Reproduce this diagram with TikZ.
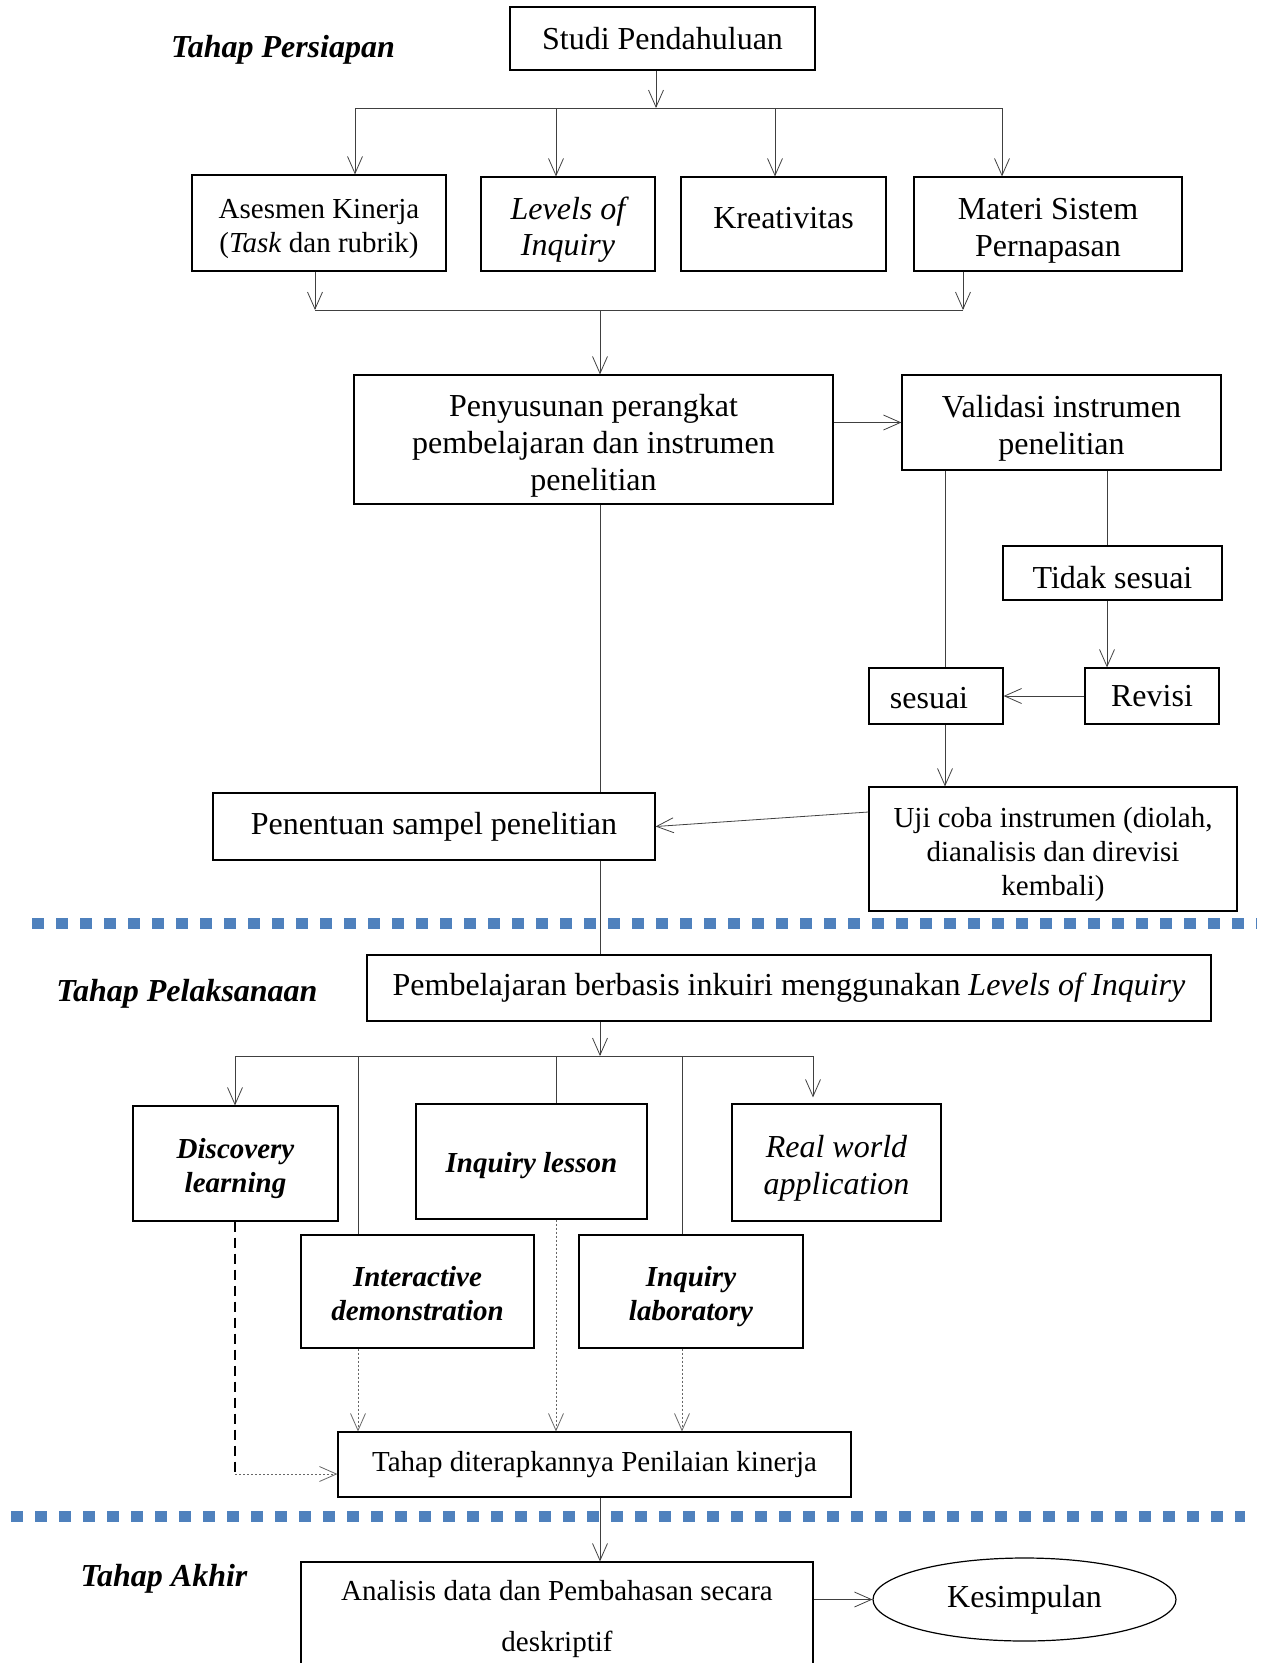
\documentclass[tikz,border=0pt]{standalone}
\usepackage{fontspec}
\setmainfont{Liberation Serif}
\usepackage{tikz}
\usetikzlibrary{positioning, arrows.meta, calc}
\usetikzlibrary{shapes.geometric}
\definecolor{sepblue}{RGB}{79,129,189}

\tikzset{
  box/.style={draw, line width=1.2pt, align=center, inner sep=0pt, font=\fontsize{32}{37}\selectfont},
  boxs/.style={box, font=\fontsize{29}{34}\selectfont},
  boxbi/.style={box, font=\fontsize{29}{34}\selectfont\bfseries\itshape},
  lower/.style={execute at begin node={\rule{0pt}{#1}}},
  raise/.style={execute at begin node={\rule[-#1]{0pt}{1pt}}},
  arr/.style={draw=black!75, line width=0.8pt, -{Straight Barb[length=17pt,width=15pt]}},
  link/.style={draw=black!75, line width=0.8pt},
  dotarr/.style={arr, draw=black!60, dash pattern=on 2pt off 2pt},
  dashline/.style={draw=black, line width=1.8pt, dash pattern=on 10pt off 6pt},
  stage/.style={font=\fontsize{32}{37}\selectfont\bfseries\itshape},
  sep/.style={draw=sepblue, line width=11pt, dash pattern=on 12pt off 12pt}
}

\begin{document}
\begin{tikzpicture}[x=1pt, y=-1pt]
    \useasboundingbox (0,0) rectangle (1269,1663);
    \clip (0,0) rectangle (1269,1663);

    % Tahap Persiapan
    \node[stage] (persiapan) at (283,50) {Tahap Persiapan};
    \node[box, minimum width=305, minimum height=63] (studi) at (662.5,38.5) {Studi Pendahuluan};
    \node[boxs, minimum width=254, minimum height=96] (asesmen) at (319,223) {\rule{0pt}{31pt}Asesmen Kinerja\\(\textit{Task} dan rubrik)};
    \node[box, minimum width=174, minimum height=94, font=\fontsize{32}{36}\selectfont\itshape] (levels) at (568,224) {\rule{0pt}{34pt}Levels of\\Inquiry};
    \node[box, raise=12pt, minimum width=205, minimum height=94] (kreativitas) at (783.5,224) {Kreativitas};
    \node[box, minimum width=268, minimum height=94] (materi) at (1048,224) {\rule{0pt}{34pt}Materi Sistem\\Pernapasan};

    \coordinate (busS) at (656,108);
    \coordinate (busL) at (355,108);
    \coordinate (busLv) at (556,108);
    \coordinate (busKr) at (775,108);
    \coordinate (busR) at (1002,108);
    \draw[arr] (studi.south -| busS) -- (busS);
    \draw[link] (busL) -- (busR);
    \draw[arr] (busL) -- (asesmen.north -| busL);
    \draw[arr] (busLv) -- (levels.north -| busLv);
    \draw[arr] (busKr) -- (kreativitas.north -| busKr);
    \draw[arr] (busR) -- (materi.north -| busR);

    % Penyusunan dan validasi
    \node[box, minimum width=479, minimum height=129] (penyusunan) at (593.5,439.5) {\rule{0pt}{34pt}Penyusunan perangkat\\pembelajaran dan instrumen\\penelitian};
    \node[box, minimum width=319, minimum height=95] (validasi) at (1061.5,422.5) {\rule{0pt}{34pt}Validasi instrumen\\penelitian};
    \node[box, lower=31pt, minimum width=219, minimum height=54] (tidak) at (1112.5,573) {Tidak sesuai};
    \node[box, minimum width=134, minimum height=56] (revisi) at (1152,696) {Revisi};
    \node[box, lower=26pt, minimum width=134, minimum height=56] (sesuai) at (936,696) {sesuai\rule{14pt}{0pt}};
    \node[boxs, minimum width=368, minimum height=124] (uji) at (1053,849) {\rule{0pt}{31pt}Uji coba instrumen (diolah,\\dianalisis dan direvisi\\kembali)};
    \node[box, minimum width=442, minimum height=67] (penentuan) at (434,826.5) {Penentuan sampel penelitian};

    \coordinate (mergeL) at (315,310);
    \coordinate (mergeR) at (963,310);
    \coordinate (spine) at (600,310);
    \coordinate (ok) at (945,470);
    \coordinate (no) at (1107,470);
    \draw[arr] (asesmen.south -| mergeL) -- (mergeL);
    \draw[arr] (materi.south -| mergeR) -- (mergeR);
    \draw[link] (mergeL) -- (mergeR);
    \draw[arr] (spine) -- (penyusunan.north -| spine);
    \draw[arr] (penyusunan.east |- validasi.west) -- (validasi.west);
    \draw[link] (validasi.south -| ok) -- (sesuai.north -| ok);
    \draw[link] (validasi.south -| no) -- (tidak.north -| no);
    \draw[arr] (tidak.south -| no) -- (revisi.north -| no);
    \draw[arr] (revisi.west) -- (sesuai.east);
    \draw[arr] (sesuai.south -| ok) -- (uji.north -| ok);
    \draw[arr] ([yshift=37pt]uji.west) -- (penentuan.east);
    \draw[link] (penyusunan.south -| spine) -- (penentuan.north -| spine);

    % Tahap Pelaksanaan
    \draw[sep] (32,923) -- (1257,923);
    \node[stage] (pelaksanaan) at (187,994) {Tahap Pelaksanaan};
    \node[box, minimum width=844, minimum height=66] (pembelajaran) at (789,988) {Pembelajaran berbasis inkuiri menggunakan \textit{Levels of Inquiry}};
    \node[boxbi, minimum width=205, minimum height=115] (discovery) at (235.5,1163.5) {\rule{0pt}{31pt}Discovery\\learning};
    \node[boxbi, lower=29pt, minimum width=231, minimum height=115] (lesson) at (531.5,1161.5) {Inquiry lesson};
    \node[box, minimum width=209, minimum height=117, font=\fontsize{32}{37}\selectfont\itshape] (realworld) at (836.5,1162.5) {\rule{0pt}{34pt}Real world\\application};
    \node[boxbi, minimum width=233, minimum height=113] (interactive) at (417.5,1291.5) {\rule{0pt}{25pt}Interactive\\demonstration};
    \node[boxbi, minimum width=224, minimum height=113] (laboratory) at (691,1291.5) {\rule{0pt}{31pt}Inquiry\\laboratory};
    \node[boxs, minimum width=513, minimum height=65] (penilaian) at (594.5,1464.5) {Tahap diterapkannya Penilaian kinerja};

    \draw[link] (penentuan.south -| spine) -- (pembelajaran.north -| spine);
    \coordinate (busDL) at (235,1056);
    \coordinate (busDR) at (813,1056);
    \coordinate (tapI) at (358,1056);
    \coordinate (tapL) at (556,1056);
    \coordinate (tapB) at (682,1056);
    \coordinate (bend) at (235,1474);
    \draw[arr] (pembelajaran.south -| spine) -- (busDL -| spine);
    \draw[link] (busDL) -- (busDR);
    \draw[arr] (busDL) -- (discovery.north -| busDL);
    \draw[arr] (busDR) -- ([yshift=6pt]realworld.north -| busDR);
    \draw[link] (tapI) -- (interactive.north -| tapI);
    \draw[link] (tapL) -- (lesson.north -| tapL);
    \draw[link] (tapB) -- (laboratory.north -| tapB);
    \draw[dotarr] (interactive.south -| tapI) -- (penilaian.north -| tapI);
    \draw[dotarr] (lesson.south -| tapL) -- (penilaian.north -| tapL);
    \draw[dotarr] (laboratory.south -| tapB) -- (penilaian.north -| tapB);
    \draw[dashline] (discovery.south -| bend) -- (bend);
    \draw[dotarr] (bend) -- (penilaian.west |- bend);

    % Tahap Akhir
    \draw[sep] (11,1516) -- (1245,1516);
    \node[stage] (akhir) at (164,1579) {Tahap Akhir};
    \node[boxs, minimum width=512, minimum height=107, font=\fontsize{29}{51}\selectfont] (analisis) at (557,1615.5) {\rule{0pt}{28pt}Analisis data dan Pembahasan secara\\deskriptif};
    \node[draw, line width=1.2pt, ellipse, minimum width=303, minimum height=83, font=\fontsize{32}{37}\selectfont] (kesimpulan) at (1024.5,1599.5) {Kesimpulan};
    \draw[arr] (penilaian.south -| spine) -- (analisis.north -| spine);
    \draw[arr] (analisis.east |- kesimpulan.west) -- (kesimpulan.west);
\end{tikzpicture}
\end{document}
